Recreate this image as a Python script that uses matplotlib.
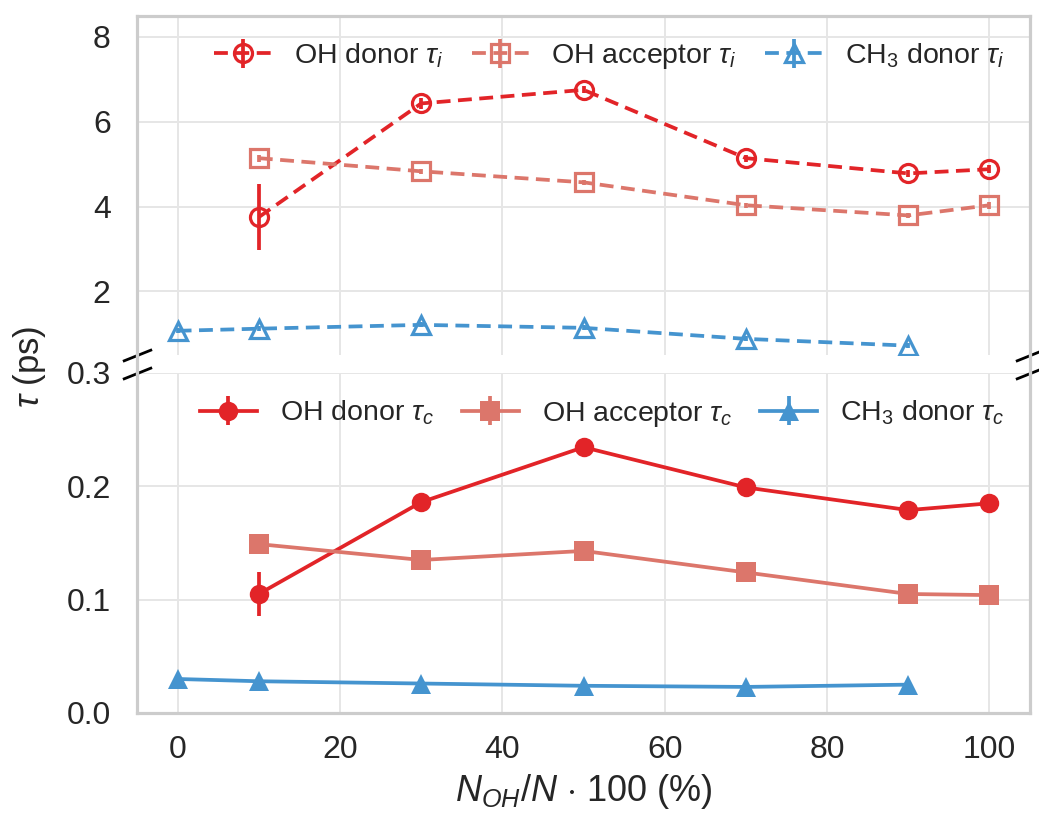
import matplotlib.pyplot as plt
from matplotlib.lines import Line2D

plt.rcParams["font.family"] = ["Liberation Sans", "DejaVu Sans"]
plt.rcParams["mathtext.fontset"] = "custom"
plt.rcParams["mathtext.rm"] = "Liberation Sans"
plt.rcParams["mathtext.it"] = "Liberation Sans:italic"
plt.rcParams["mathtext.bf"] = "Liberation Sans:bold"

## Data
x_oh = [10, 30, 50, 70, 90, 100]
x_ch3 = [0, 10, 30, 50, 70, 90]

# Initial relaxation times tau_i (ps)
oh_donor_ti = [3.75, 6.43, 6.75, 5.14, 4.78, 4.88]
oh_donor_ti_err = [0.78, 0.12, 0.08, 0.08, 0.08, 0.10]
oh_acc_ti = [5.14, 4.83, 4.57, 4.03, 3.79, 4.03]
oh_acc_ti_err = [0.08, 0.06, 0.06, 0.06, 0.06, 0.08]
ch3_donor_ti = [1.07, 1.12, 1.21, 1.14, 0.88, 0.72]
ch3_donor_ti_err = [0.06, 0.06, 0.06, 0.06, 0.06, 0.06]

# Continuous relaxation times tau_c (ps)
oh_donor_tc = [0.105, 0.186, 0.2345, 0.199, 0.179, 0.185]
oh_donor_tc_err = [0.019, 0.006, 0.003, 0.003, 0.003, 0.003]
oh_acc_tc = [0.149, 0.135, 0.143, 0.124, 0.105, 0.104]
oh_acc_tc_err = [0.003, 0.003, 0.003, 0.003, 0.003, 0.003]
ch3_donor_tc = [0.030, 0.028, 0.026, 0.024, 0.023, 0.025]
ch3_donor_tc_err = [0.002, 0.002, 0.002, 0.002, 0.002, 0.002]

x_ticks = [0, 20, 40, 60, 80, 100]

RED = "#e22428"
SALMON = "#dc766b"
BLUE = "#4594cf"
SPINE = "#cccccc"
TEXT = "#262626"

## Figure and the two halves of the broken axis
fig = plt.figure(figsize=(10.39, 8.14), dpi=100)
left, width = 0.1319, 0.8595
ax_top = fig.add_axes([left, 0.5639, width, 0.4169])
ax_bot = fig.add_axes([left, 0.1241, width, 0.4177])

for ax in (ax_top, ax_bot):
  ax.set_xlim(-5, 105)
  ax.set_xticks(x_ticks)
  ax.grid(True, color="#e6e6e6", linewidth=1.4)
  ax.set_axisbelow(True)
  for s in ax.spines.values():
    s.set_color(SPINE)
    s.set_linewidth(2.3)
  ax.tick_params(length=0, labelsize=23, colors=TEXT)
  ax.tick_params(axis="y", pad=19)
  ax.tick_params(axis="x", pad=16)

ax_top.spines["bottom"].set_visible(False)
ax_top.tick_params(labelbottom=False)
ax_bot.spines["top"].set_visible(False)

ax_top.set_ylim(0.5, 8.5)
ax_top.set_yticks([2, 4, 6, 8])
ax_bot.set_ylim(0, 0.3)
ax_bot.set_yticks([0.0, 0.1, 0.2, 0.3])
ax_bot.set_yticklabels(["0.0", "0.1", "0.2", "0.3"])

# Top panel: dashed lines with open markers
open_kw = dict(ls="--", dashes=(3.7, 2.0), lw=2.7, ms=13, mfc="none", mew=2.3,
               elinewidth=2.7, capsize=0)
ax_top.errorbar(x_oh, oh_donor_ti, yerr=oh_donor_ti_err, color=RED, marker="o",
                label=r"OH donor $\tau_i$", **open_kw)
ax_top.errorbar(x_oh, oh_acc_ti, yerr=oh_acc_ti_err, color=SALMON, marker="s",
                label=r"OH acceptor $\tau_i$", **open_kw)
ax_top.errorbar(x_ch3, ch3_donor_ti, yerr=ch3_donor_ti_err, color=BLUE, marker="^",
                label=r"CH$_3$ donor $\tau_i$", **open_kw)

# Bottom panel: solid lines with filled markers
full_kw = dict(ls="-", lw=2.7, ms=14, mew=0, elinewidth=2.7, capsize=0)
ax_bot.errorbar(x_oh, oh_donor_tc, yerr=oh_donor_tc_err, color=RED, marker="o",
                label=r"OH donor $\tau_c$", **full_kw)
ax_bot.errorbar(x_oh, oh_acc_tc, yerr=oh_acc_tc_err, color=SALMON, marker="s",
                label=r"OH acceptor $\tau_c$", **full_kw)
ax_bot.errorbar(x_ch3, ch3_donor_tc, yerr=ch3_donor_tc_err, color=BLUE, marker="^",
                label=r"CH$_3$ donor $\tau_c$", **full_kw)

leg_kw = dict(loc="upper right", ncol=3, frameon=False, fontsize=20.5,
              columnspacing=1.0, handlelength=2.0, handletextpad=0.8, labelcolor=TEXT)
ax_top.legend(**leg_kw)
ax_bot.legend(**leg_kw)

# Diagonal break marks on both sides of the gap
d = 0.4
brk = dict(marker=[(-1, -d), (1, d)], markersize=21, linestyle="none",
           color="k", mec="k", mew=2, clip_on=False)
ax_top.plot([0, 1], [0, 0], transform=ax_top.transAxes, **brk)
ax_bot.plot([0, 1], [1, 1], transform=ax_bot.transAxes, **brk)

# Keep the side spines continuous across the gap
for xf in (left, left + width):
  fig.add_artist(Line2D([xf, xf], [0.5418, 0.5639], color=SPINE, lw=2.3,
                        transform=fig.transFigure))

# Axis labels
fig.text(0.028, 0.550, r"$\tau$ (ps)", rotation=90, ha="center", va="center",
         fontsize=25, color=TEXT)
ax_bot.set_xlabel(r"$N_{OH}/N$ $\cdot$ 100 (%)", fontsize=26, color=TEXT, labelpad=5)

fig.savefig("out.png", dpi=100)
